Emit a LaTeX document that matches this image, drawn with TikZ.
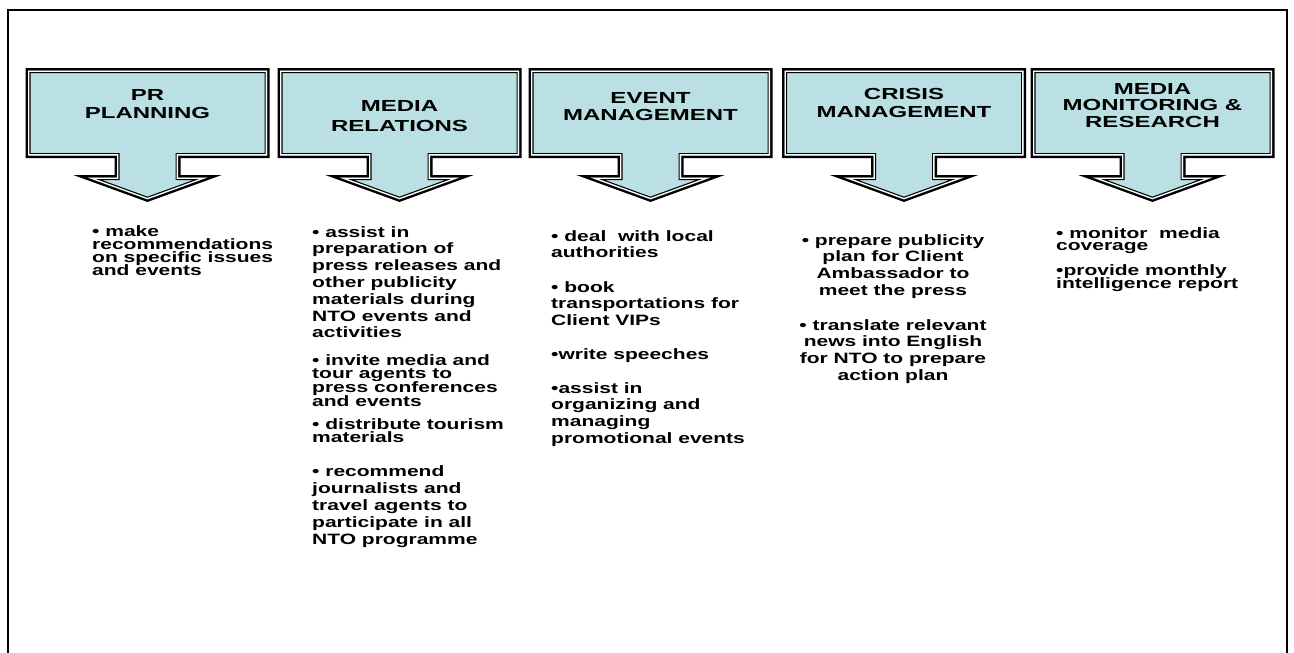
\documentclass[tikz,border=0pt]{standalone}
\usepackage{fontspec}
\setmainfont{Liberation Sans}[FakeStretch=1.4]
\newfontfamily\headfont{Liberation Sans}[FakeStretch=1.5]
\definecolor{boxfill}{RGB}{186,224,228}
\newcommand{\bodyfont}[1]{\bfseries\fontsize{15}{#1}\selectfont\lineskiplimit=-5pt}
\newcommand{\calloutoutline}{(-119.5,70.5) -- (119.5,70.5) -- (119.5,155.5) -- (30.5,155.5) -- (30.5,177.5) -- (60,177.5) -- (0,199.3) -- (-60,177.5) -- (-30.5,177.5) -- (-30.5,155.5) -- (-119.5,155.5) -- cycle}

\begin{document}
\begin{tikzpicture}[x=1pt, y=-1pt,
        callout/.pic={
            \draw[line width=5pt, line join=miter, miter limit=20] \calloutoutline;
            \begin{scope}
                \clip \calloutoutline;
                \fill[boxfill] \calloutoutline;
                \draw[line width=5pt] \calloutoutline;
                \draw[white, line width=2.6pt] \calloutoutline;
            \end{scope}},
        head/.style={font=\headfont\bfseries\fontsize{16}{#1}\selectfont, align=center, inner sep=0pt, anchor=north},
        head/.default=18,
        itembox/.style={font=\bodyfont{#1}, align=left, inner sep=0pt, anchor=north west},
        itembox/.default=16.8]

    \useasboundingbox (0,0) rectangle (1294,653);

    % Frame, open at the bottom
    \draw[line width=2pt] (8,653) -- (8,10) -- (1287,10) -- (1287,653);

    % Callout arrows
    \pic at (147.5,0) {callout};
    \pic at (399.5,0) {callout};
    \pic at (650.5,0) {callout};
    \pic at (904,0) {callout};
    \pic at (1152.5,0) {callout};

    % Headings
    \node[head] (planning) at (147.5,89) {PR\\PLANNING};
    \node[head=20] (relations) at (399.5,100) {MEDIA\\RELATIONS};
    \node[head=17] (events) at (650.5,92) {EVENT\\MANAGEMENT};
    \node[head] (crisis) at (904,88) {CRISIS\\MANAGEMENT};
    \node[head=16.5] (research) at (1152.5,83) {MEDIA\\MONITORING \&\\RESEARCH};

    % PR planning
    \node[itembox=13.3] (plan1) at (92,225) {• make\\recommendations\\on specific issues\\and events};

    % Media relations
    \node[itembox] (media1) at (312,226) {• assist in\\preparation of\\press releases and\\other publicity\\materials during\\NTO events and\\activities};
    \node[itembox=13.7] (media2) at (312,354) {• invite media and\\tour agents to\\press conferences\\and events};
    \node[itembox=13.8] (media3) at (312,418) {• distribute tourism\\materials};
    \node[itembox=17] (media4) at (312,465) {• recommend\\journalists and\\travel agents to\\participate in all\\NTO programme};

    % Event management
    \node[itembox] (event1) at (551,230) {• deal\ \ with local\\authorities};
    \node[itembox] (event2) at (551,281) {• book\\transportations for\\Client VIPs};
    \node[itembox] (event3) at (551,348) {•write speeches};
    \node[itembox] (event4) at (551,382) {•assist in\\organizing and\\managing\\promotional events};

    % Crisis management
    \node[itembox, anchor=north, align=center] (crisis1) at (893,234) {• prepare publicity\\plan for Client\\Ambassador to\\meet the press};
    \node[itembox, anchor=north, align=center] (crisis2) at (893,319) {• translate relevant\\news into English\\for NTO to prepare\\action plan};

    % Media monitoring
    \node[itembox=12.5] (monitor1) at (1056,227) {• monitor\ \ media\\coverage};
    \node[itembox=13] (monitor2) at (1056,264) {•provide monthly\\intelligence report};

\end{tikzpicture}
\end{document}
